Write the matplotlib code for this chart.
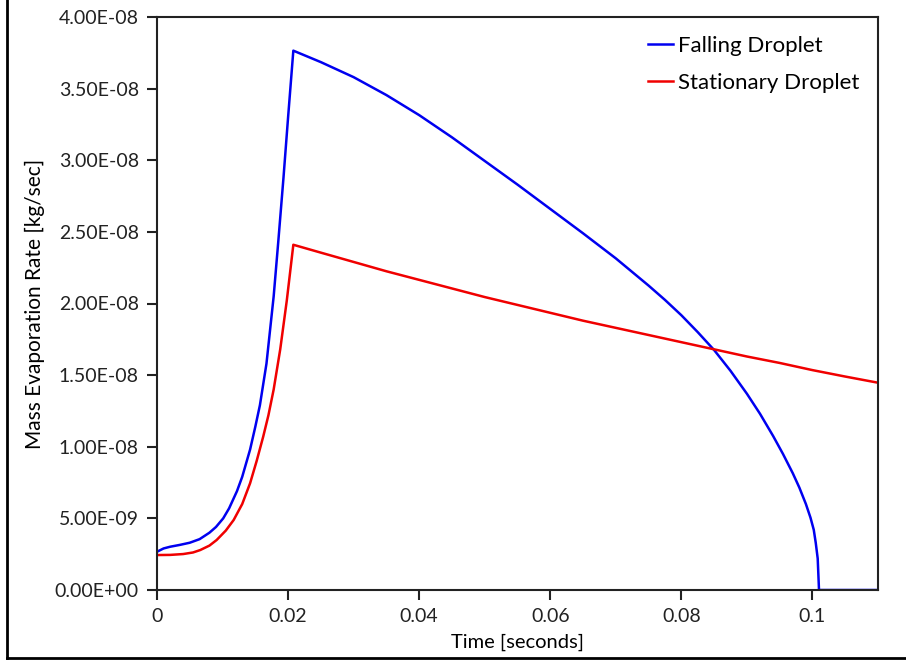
import numpy as np
import matplotlib
matplotlib.use("Agg")
import matplotlib.pyplot as plt
from matplotlib.ticker import FuncFormatter
from matplotlib.lines import Line2D

plt.rcParams["font.family"] = ["Lato", "DejaVu Sans"]

# values (rate in units of 1e-8 kg/sec)
t_falling = [0, 0.001, 0.002, 0.0035, 0.005, 0.0065, 0.008, 0.009, 0.0101,
             0.011, 0.0122, 0.013, 0.0142, 0.015, 0.0157, 0.0167, 0.0178,
             0.0185, 0.0193, 0.0200, 0.0208,
             0.025, 0.030, 0.035, 0.040, 0.045, 0.050, 0.055, 0.060,
             0.065, 0.070, 0.075, 0.0775, 0.080, 0.0825, 0.085, 0.0875,
             0.090, 0.092, 0.094, 0.0955, 0.097, 0.098, 0.099, 0.0997,
             0.1002, 0.1005, 0.1008, 0.101, 0.11]
m_falling = [0.267, 0.29, 0.302, 0.315, 0.330, 0.355, 0.40, 0.44, 0.50,
             0.57, 0.69, 0.79, 0.98, 1.14, 1.29, 1.58, 2.05,
             2.43, 2.88, 3.30, 3.765,
             3.685, 3.58, 3.455, 3.315, 3.16, 2.995, 2.83, 2.66,
             2.49, 2.315, 2.125, 2.025, 1.918, 1.80, 1.675, 1.53,
             1.37, 1.23, 1.075, 0.95, 0.815, 0.715, 0.60, 0.505,
             0.42, 0.33, 0.22, 0.0, 0.0]

t_stationary = [0, 0.002, 0.004, 0.0055, 0.0066, 0.008, 0.0091, 0.0105,
                0.0117, 0.013, 0.0142, 0.0152, 0.0162, 0.017, 0.0178, 0.0188,
                0.0198, 0.0208,
                0.025, 0.030, 0.035, 0.040, 0.045, 0.050, 0.055, 0.060,
                0.065, 0.070, 0.075, 0.080, 0.085, 0.090, 0.095, 0.100,
                0.105, 0.110]
m_stationary = [0.244, 0.245, 0.251, 0.262, 0.279, 0.31, 0.349, 0.415,
                0.489, 0.60, 0.745, 0.90, 1.07, 1.22, 1.40, 1.68,
                2.02, 2.41,
                2.355, 2.29, 2.225, 2.165, 2.105, 2.045, 1.99, 1.935,
                1.88, 1.83, 1.78, 1.73, 1.68, 1.63, 1.585, 1.535,
                1.49, 1.447]

x_ticks = [0, 0.02, 0.04, 0.06, 0.08, 0.1]
y_ticks = [0, 0.5e-8, 1.0e-8, 1.5e-8, 2.0e-8, 2.5e-8, 3.0e-8, 3.5e-8, 4.0e-8]

fig = plt.figure(figsize=(9.06, 6.61), dpi=100)
ax = fig.add_axes([157 / 906, 71 / 661, 721 / 906, 573 / 661])

ax.plot(t_falling, np.array(m_falling) * 1e-8, color="#0000f0", lw=1.8,
        label="Falling Droplet")
ax.plot(t_stationary, np.array(m_stationary) * 1e-8, color="#f00000", lw=1.8,
        label="Stationary Droplet")

ax.set_xlim(0, 0.11)
ax.set_ylim(0, 4e-8)
ax.set_xticks(x_ticks)
ax.set_yticks(y_ticks)
ax.xaxis.set_major_formatter(FuncFormatter(lambda v, p: f"{v:g}"))
ax.yaxis.set_major_formatter(FuncFormatter(lambda v, p: f"{v:.2E}"))
ax.tick_params(direction="out", length=7, width=1.5, labelsize=14,
               colors="#222222", pad=6)
for s in ax.spines.values():
    s.set_linewidth(1.5)
    s.set_color("#222222")

ax.set_xlabel("Time [seconds]", fontsize=14.5, labelpad=6)
ax.set_ylabel("Mass Evaporation Rate [kg/sec]", fontsize=15, labelpad=7)

ax.legend(loc="upper right", bbox_to_anchor=(1.0, 1.0), frameon=False,
          fontsize=16, handlelength=1.15, handletextpad=0.2,
          labelspacing=0.75, borderaxespad=0.45)

# outer chart border (left and bottom visible in the crop)
fig.add_artist(Line2D([7 / 906, 7 / 906], [3 / 661, 1.0], color="black",
                      lw=2, transform=fig.transFigure))
fig.add_artist(Line2D([7 / 906, 1.0], [3 / 661, 3 / 661], color="black",
                      lw=2, transform=fig.transFigure))

fig.savefig("out.png", dpi=100)
